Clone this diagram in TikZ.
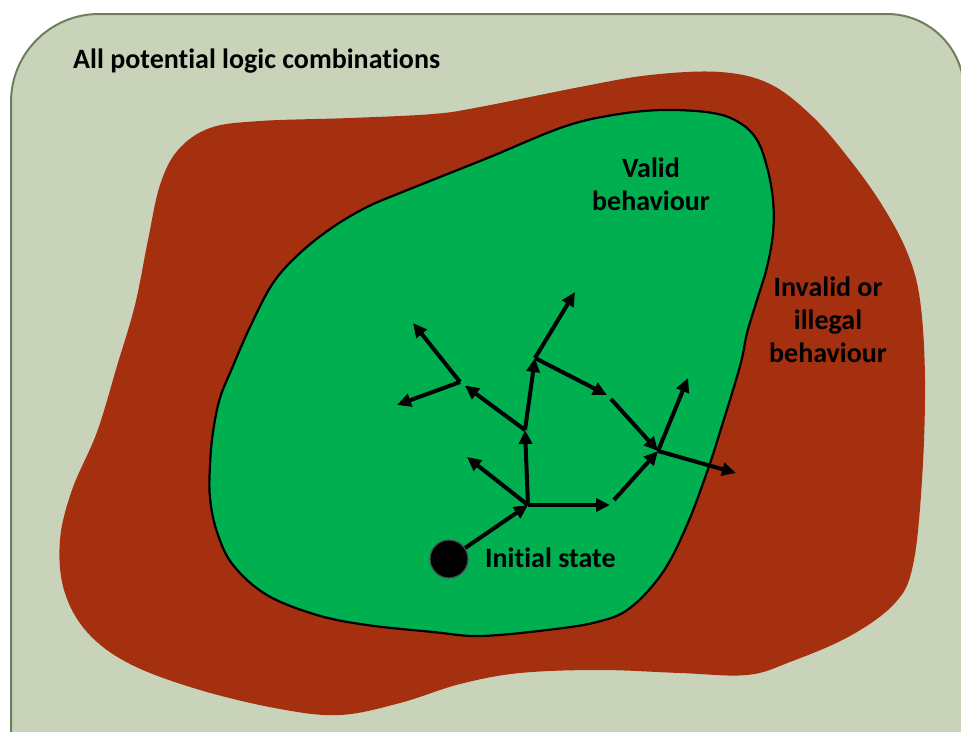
\documentclass[tikz,border=0pt]{standalone}
\usepackage{fontspec}
\setmainfont{Carlito}[Ligatures=NoCommon]
\usetikzlibrary{arrows.meta}

\definecolor{sage}{RGB}{201,211,186}
\definecolor{sageedge}{RGB}{110,127,92}
\definecolor{redzone}{RGB}{165,48,16}
\definecolor{validgreen}{RGB}{0,175,80}

\tikzset{
  caption/.style={font=\bfseries\fontsize{28}{33}\selectfont, text=black, inner sep=0pt, align=center},
  flow/.style={line width=4pt, -{Triangle[length=14pt,width=13pt]}},
}

\begin{document}
\begin{tikzpicture}[x=1pt,y=-1pt]
  \useasboundingbox (0,0) rectangle (961,731);
  \fill[white] (0,0) rectangle (961,731);

  % outer panel: set of all logic combinations
  \begin{scope}
    \clip (0,0) rectangle (961,731);
    \filldraw[fill=sage, draw=sageedge, line width=2pt]
      (11,760) -- (11,102)
      .. controls (11,53.4) and (50.4,14) .. (99,14)
      -- (887,14)
      .. controls (929.5,14) and (964,48.5) .. (964,91)
      -- (964,760) -- cycle;
  \end{scope}

  % region of invalid behaviour
  \fill[redzone] plot[smooth cycle, tension=0.6] coordinates {
    (178,150) (210,128) (260,121) (350,118) (433,114) (480,107) (580,87)
    (650,75) (720,72) (770,84) (813,117) (850,160) (882,205) (907,252)
    (920,300) (925,380) (922,480) (913,565) (895,603) (850,636) (790,662)
    (747,675) (680,673) (600,670) (520,673) (460,684) (400,703) (340,715)
    (280,709) (200,690) (130,664) (87,632) (64,590) (60,540) (72,490)
    (97,432) (117,366) (135,305) (148,240) (160,185)};

  % region of valid behaviour
  \filldraw[fill=validgreen, draw=black, line width=2.2pt]
    plot[smooth cycle, tension=0.6] coordinates {
    (490,157) (563,127) (613,115) (663,110) (713,113) (740,123)
    (757,140) (767,167) (773,200) (773,233) (767,267) (757,300) (747,333)
    (740,366) (720,432) (707,472) (687,525) (663,572) (630,608) (597,622)
    (547,630) (480,636) (433,632) (367,625) (317,615) (267,595) (233,565)
    (217,532) (210,498) (210,465) (213,432) (220,398) (233,366) (250,327)
    (273,283) (300,253) (333,227) (367,207) (400,193) (440,177)};

  % labels
  \node[caption, anchor=base west] (title) at (73,68) {All potential logic combinations};
  \node[caption, anchor=base] (valid) at (651,210) {Valid\\behaviour};
  \node[caption, anchor=base] (invalid) at (828,362) {Invalid or\\illegal\\behaviour};

  % initial state
  \node[circle, fill=black, draw=black!70, line width=1.2pt, minimum size=38pt, inner sep=0pt] (init) at (449,559) {};
  \node[caption, anchor=base west] (initlabel) at (485,567) {Initial state};

  % branching points of the state exploration
  \coordinate (j1) at (528,505);
  \coordinate (j2) at (525,430);
  \coordinate (j4) at (535,358);
  \coordinate (j5) at (460,382);
  \coordinate (j3) at (658,451);
  \coordinate (k1) at (610,505);
  \coordinate (k1s) at (614,500);
  \coordinate (k2) at (607,395);
  \coordinate (k2s) at (611,399);
  % open ends
  \coordinate (t1) at (467,457);
  \coordinate (t2) at (413,323);
  \coordinate (t3) at (397,405);
  \coordinate (t4) at (575,292);
  \coordinate (t5) at (688,378);
  \coordinate (t6) at (736,473);

  \draw[flow] (init) -- (j1);
  \draw[flow] (j1) -- (j2);
  \draw[flow] (j1) -- (t1);
  \draw[flow] (j1) -- (k1);
  \draw[flow] (k1s) -- (j3);
  \draw[flow] (j2) -- (j4);
  \draw[flow, shorten >=6pt] (j2) -- (j5);
  \draw[flow] (j5) -- (t2);
  \draw[flow] (j5) -- (t3);
  \draw[flow] (j4) -- (t4);
  \draw[flow] (j4) -- (k2);
  \draw[flow] (k2s) -- (j3);
  \draw[flow] (j3) -- (t5);
  \draw[flow] (j3) -- (t6);
\end{tikzpicture}
\end{document}
